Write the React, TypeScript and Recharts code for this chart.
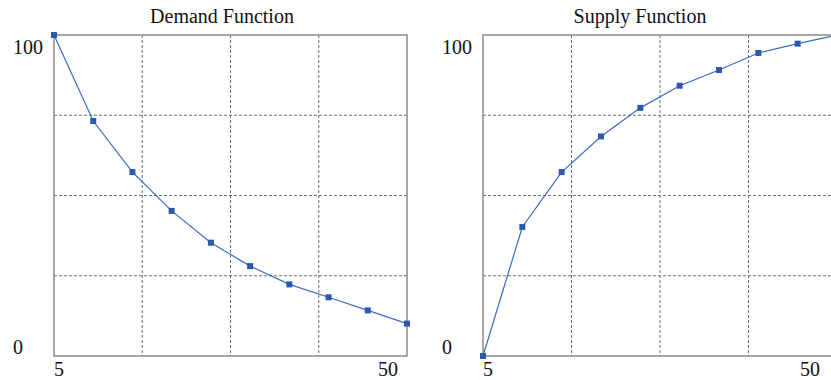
import React from 'react';
import {
  LineChart,
  Line,
  XAxis,
  YAxis,
  CartesianGrid,
  ReferenceArea,
} from 'recharts';

// quantity on the x axis, price on the y axis
const quantities = [5, 10, 15, 20, 25, 30, 35, 40, 45, 50];
const demandPrices = [100, 73.2, 57.3, 45.2, 35.3, 28, 22.3, 18.3, 14.2, 10.1];
const supplyPrices = [0, 40.2, 57.3, 68.4, 77.3, 84.2, 89.1, 94.4, 97.3, 100];

const xTicks = [5, 50];
const yTicks = [0, 100];
const xGrid = [16.25, 27.5, 38.75];
const yGrid = [25, 50, 75];

const FONT = '"Liberation Serif", "Times New Roman", serif';
const LINE_COLOR = '#3a6cc4';
const MARK_COLOR = '#2a5bab';
const FRAME = '#8a8a8a';

const toRows = (prices: number[]) =>
  quantities.map((q, i) => ({ q, p: prices[i] }));

const SquareDot = (props: any) => {
  const { cx, cy, index } = props;
  if (cx == null || cy == null) return <g key={index} />;
  return (
    <rect key={index} x={cx - 3} y={cy - 3} width={6} height={6} fill={MARK_COLOR} />
  );
};

const makeYTick = (labelX: number) => (props: any) => {
  const { y, payload } = props;
  const top = payload.value === 100;
  return (
    <text
      x={labelX}
      y={top ? y + 19 : y - 2}
      textAnchor="start"
      fontFamily={FONT}
      fontSize={20}
      fill="#111"
    >
      {payload.value}
    </text>
  );
};

const makeXTick = (endGap: number) => (props: any) => {
  const { x, y, payload } = props;
  const first = payload.value === 5;
  return (
    <text
      x={first ? x : x - endGap}
      y={y + 12}
      textAnchor={first ? 'start' : 'end'}
      fontFamily={FONT}
      fontSize={20}
      fill="#111"
    >
      {payload.value}
    </text>
  );
};

interface PanelProps {
  prices: number[];
  left: number;
  axisWidth: number;
  rightMargin: number;
  labelX: number;
  endGap: number;
}

const Panel: React.FC<PanelProps> = ({ prices, left, axisWidth, rightMargin, labelX, endGap }) => (
  <div style={{ position: 'absolute', left, top: 0 }}>
    <LineChart
      width={420}
      height={380}
      data={toRows(prices)}
      margin={{ top: 35, right: rightMargin, bottom: 0, left: 0 }}
    >
      <CartesianGrid
        stroke="#6e6e6e"
        strokeDasharray="3 2"
        horizontalValues={yGrid}
        verticalValues={xGrid}
      />
      <XAxis
        dataKey="q"
        type="number"
        domain={[5, 50]}
        ticks={xTicks}
        height={24}
        axisLine={false}
        tickLine={false}
        tick={makeXTick(endGap)}
      />
      <YAxis
        type="number"
        domain={[0, 100]}
        ticks={yTicks}
        width={axisWidth}
        axisLine={false}
        tickLine={false}
        tick={makeYTick(labelX)}
      />
      <ReferenceArea
        x1={5}
        x2={50}
        y1={0}
        y2={100}
        fill="none"
        stroke={FRAME}
        strokeWidth={1.5}
        fillOpacity={0}
      />
      <Line
        dataKey="p"
        stroke={LINE_COLOR}
        strokeWidth={1.2}
        dot={SquareDot}
        activeDot={false}
        isAnimationActive={false}
      />
    </LineChart>
  </div>
);

const App: React.FC = () => (
  <div
    style={{
      position: 'fixed',
      left: 0,
      top: 0,
      width: 831,
      height: 380,
      overflow: 'hidden',
      background: '#fff',
    }}
  >
    <Panel prices={demandPrices} left={0} axisWidth={54} rightMargin={13} labelX={13} endGap={9} />
    <Panel prices={supplyPrices} left={420} axisWidth={63} rightMargin={3} labelX={22} endGap={12} />
    <svg
      width={831}
      height={380}
      style={{ position: 'absolute', left: 0, top: 0, pointerEvents: 'none' }}
    >
      <text x={222} y={23} textAnchor="middle" fontFamily={FONT} fontSize={20} fill="#111">
        Demand Function
      </text>
      <text x={640} y={23} textAnchor="middle" fontFamily={FONT} fontSize={20} fill="#111">
        Supply Function
      </text>
    </svg>
  </div>
);

export default App;
